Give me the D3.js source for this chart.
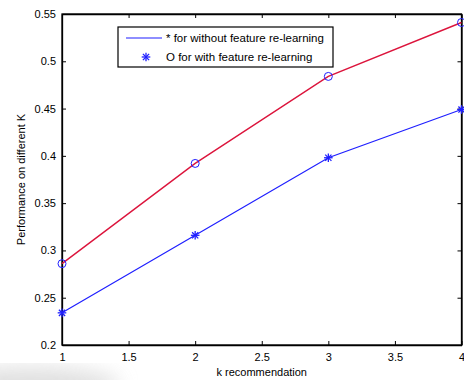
<!DOCTYPE html>
<html>
<head>
<meta charset="utf-8">
<script src="https://cdn.jsdelivr.net/npm/d3@7"></script>
<style>
  html, body { margin: 0; padding: 0; background: #fff; }
  svg { display: block; font-family: "Liberation Sans", Arial, sans-serif; }
  .tick text { font-size: 11px; fill: #000; }
</style>
</head>
<body>
<div id="chart"></div>
<script>
(function () {
    "use strict";

    // ---- data ----------------------------------------------------
    const kValues = [1, 2, 3, 4];
    const withRelearning = [0.286, 0.392, 0.484, 0.541];     // circles
    const withoutRelearning = [0.234, 0.316, 0.398, 0.449];  // stars
    const xTicks = [1, 1.5, 2, 2.5, 3, 3.5, 4];
    const yTicks = [0.2, 0.25, 0.3, 0.35, 0.4, 0.45, 0.5, 0.55];
    const legendLabels = ["* for without feature re-learning", "O for with feature re-learning"];

    const W = 464, H = 380;
    const m = { left: 62, right: 2.5, top: 14, bottom: 35 };
    const iw = W - m.left - m.right, ih = H - m.top - m.bottom;

    const svg = d3.select("#chart").append("svg")
        .attr("width", W).attr("height", H);

    // faint grey smudge in the lower-left corner of the scan
    const defs = svg.append("defs");
    defs.append("filter").attr("id", "blur").append("feGaussianBlur").attr("stdDeviation", 10);
    svg.append("ellipse").attr("cx", 30).attr("cy", 385).attr("rx", 90).attr("ry", 18)
        .attr("fill", "#d8d8d8").attr("opacity", 0.8).attr("filter", "url(#blur)");

    const g = svg.append("g").attr("transform", `translate(${m.left},${m.top})`);

    const x = d3.scaleLinear().domain([1, 4]).range([0, iw]);
    const y = d3.scaleLinear().domain([0.2, 0.55]).range([ih, 0]);

    const fmt = d => String(+d.toFixed(2));

    // ---- axes (MATLAB style: inward ticks on all four sides) ----
    const tk = 4;
    g.append("g").attr("transform", `translate(0,${ih})`)
        .call(d3.axisBottom(x).tickValues(xTicks).tickFormat(fmt).tickSizeInner(-tk).tickSizeOuter(0).tickPadding(8));
    g.append("g")
        .call(d3.axisLeft(y).tickValues(yTicks).tickFormat(fmt).tickSizeInner(-tk).tickSizeOuter(0).tickPadding(6));
    g.append("g")
        .call(d3.axisTop(x).tickValues(xTicks).tickFormat("").tickSizeInner(-tk).tickSizeOuter(0));
    g.append("g").attr("transform", `translate(${iw},0)`)
        .call(d3.axisRight(y).tickValues(yTicks).tickFormat("").tickSizeInner(-tk).tickSizeOuter(0));
    g.selectAll(".domain").attr("stroke", "#000").attr("stroke-width", 1.3);
    g.selectAll(".tick line").attr("stroke", "#000");

    g.append("rect").attr("width", iw).attr("height", ih)
        .attr("fill", "none").attr("stroke", "#000").attr("stroke-width", 1.3);

    // ---- series --------------------------------------------------
    const line = d3.line().x((d, i) => x(kValues[i])).y(d => y(d));

    g.append("path").datum(withoutRelearning)
        .attr("d", line).attr("fill", "none").attr("stroke", "#1f1fff").attr("stroke-width", 1.2);
    g.append("path").datum(withRelearning)
        .attr("d", line).attr("fill", "none").attr("stroke", "#dc143c").attr("stroke-width", 1.4);

    g.selectAll(".circ").data(withRelearning).join("circle")
        .attr("cx", (d, i) => x(kValues[i])).attr("cy", d => y(d)).attr("r", 4)
        .attr("fill", "none").attr("stroke", "#1f1fff").attr("stroke-width", 1);

    // asterisk marker built from four short strokes
    function drawStar(sel, cx, cy) {
        const s = 4.3, d = s * 0.72;
        const p = sel.append("g").attr("transform", `translate(${cx},${cy})`)
            .attr("stroke", "#1f1fff").attr("stroke-width", 1.3);
        [[0, -s, 0, s], [-s, 0, s, 0], [-d, -d, d, d], [-d, d, d, -d]]
            .forEach(c => p.append("line").attr("x1", c[0]).attr("y1", c[1]).attr("x2", c[2]).attr("y2", c[3]));
    }
    withoutRelearning.forEach((d, i) => drawStar(g, x(kValues[i]), y(d)));

    // ---- legend --------------------------------------------------
    const lg = svg.append("g").attr("transform", "translate(118,27)");
    lg.append("rect").attr("width", 215).attr("height", 40)
        .attr("fill", "#fff").attr("stroke", "#000").attr("stroke-width", 1.2);
    lg.append("line").attr("x1", 8).attr("x2", 44).attr("y1", 11).attr("y2", 11)
        .attr("stroke", "#1f1fff").attr("stroke-width", 1.2);
    drawStar(lg, 28, 30);
    lg.selectAll("text").data(legendLabels).join("text")
        .attr("x", 48).attr("y", (d, i) => 15 + i * 19)
        .attr("font-size", 11.5).text(d => d);

    // ---- labels --------------------------------------------------
    svg.append("text").attr("x", m.left + iw / 2).attr("y", 376)
        .attr("text-anchor", "middle").attr("font-size", 11).text("k recommendation");
    svg.append("text").attr("transform", `translate(25,${m.top + ih / 2}) rotate(-90)`)
        .attr("text-anchor", "middle").attr("font-size", 11).text("Performance on different K");
})();
</script>
</body>
</html>
